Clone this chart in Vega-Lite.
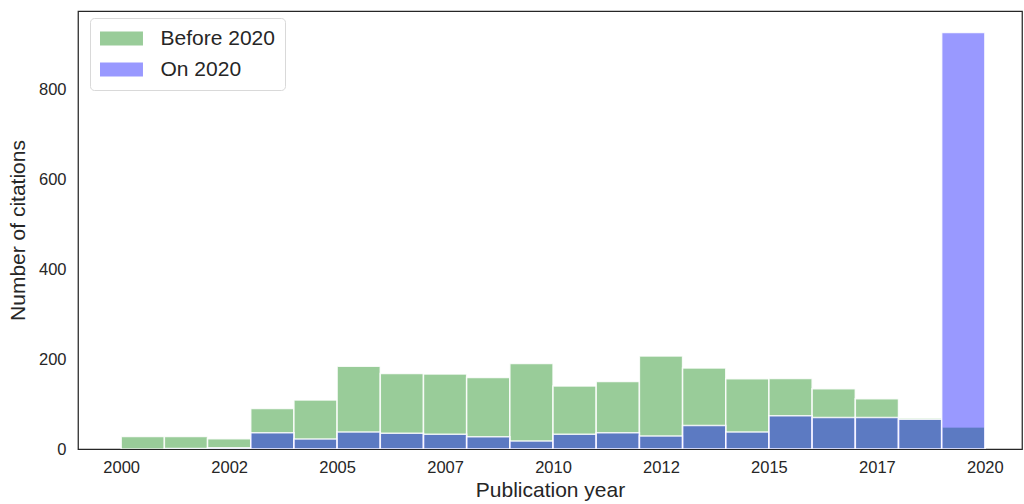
{
  "$schema": "https://vega.github.io/schema/vega-lite/v6.json",
  "width": 944,
  "height": 438,
  "autosize": {"type": "none"},
  "padding": {"left": 78, "top": 11, "right": 2, "bottom": 55},
  "background": "white",
  "config": {
    "font": "Liberation Sans",
    "view": {"stroke": "#262626", "strokeWidth": 1.25},
    "axis": {"grid": false, "ticks": false, "domain": false, "labelColor": "#262626", "titleColor": "#262626", "labelFont": "Liberation Sans", "titleFont": "Liberation Sans", "titleFontWeight": "normal"}
  },
  "data": {
    "values": [
      {"year": 2000, "year_end": 2001, "citations": 28, "period": "Before 2020"},
      {"year": 2001, "year_end": 2002, "citations": 28, "period": "Before 2020"},
      {"year": 2002, "year_end": 2003, "citations": 23, "period": "Before 2020"},
      {"year": 2003, "year_end": 2004, "citations": 90, "period": "Before 2020"},
      {"year": 2004, "year_end": 2005, "citations": 109, "period": "Before 2020"},
      {"year": 2005, "year_end": 2006, "citations": 184, "period": "Before 2020"},
      {"year": 2006, "year_end": 2007, "citations": 168, "period": "Before 2020"},
      {"year": 2007, "year_end": 2008, "citations": 167, "period": "Before 2020"},
      {"year": 2008, "year_end": 2009, "citations": 159, "period": "Before 2020"},
      {"year": 2009, "year_end": 2010, "citations": 190, "period": "Before 2020"},
      {"year": 2010, "year_end": 2011, "citations": 140, "period": "Before 2020"},
      {"year": 2011, "year_end": 2012, "citations": 150, "period": "Before 2020"},
      {"year": 2012, "year_end": 2013, "citations": 207, "period": "Before 2020"},
      {"year": 2013, "year_end": 2014, "citations": 180, "period": "Before 2020"},
      {"year": 2014, "year_end": 2015, "citations": 156, "period": "Before 2020"},
      {"year": 2015, "year_end": 2016, "citations": 157, "period": "Before 2020"},
      {"year": 2016, "year_end": 2017, "citations": 134, "period": "Before 2020"},
      {"year": 2017, "year_end": 2018, "citations": 112, "period": "Before 2020"},
      {"year": 2018, "year_end": 2019, "citations": 69, "period": "Before 2020"},
      {"year": 2019, "year_end": 2020, "citations": 49, "period": "Before 2020"},
      {"year": 2001, "year_end": 2002, "citations": 1, "period": "On 2020"},
      {"year": 2002, "year_end": 2003, "citations": 3, "period": "On 2020"},
      {"year": 2003, "year_end": 2004, "citations": 36, "period": "On 2020"},
      {"year": 2004, "year_end": 2005, "citations": 22, "period": "On 2020"},
      {"year": 2005, "year_end": 2006, "citations": 38, "period": "On 2020"},
      {"year": 2006, "year_end": 2007, "citations": 35, "period": "On 2020"},
      {"year": 2007, "year_end": 2008, "citations": 33, "period": "On 2020"},
      {"year": 2008, "year_end": 2009, "citations": 27, "period": "On 2020"},
      {"year": 2009, "year_end": 2010, "citations": 18, "period": "On 2020"},
      {"year": 2010, "year_end": 2011, "citations": 33, "period": "On 2020"},
      {"year": 2011, "year_end": 2012, "citations": 36, "period": "On 2020"},
      {"year": 2012, "year_end": 2013, "citations": 29, "period": "On 2020"},
      {"year": 2013, "year_end": 2014, "citations": 52, "period": "On 2020"},
      {"year": 2014, "year_end": 2015, "citations": 38, "period": "On 2020"},
      {"year": 2015, "year_end": 2016, "citations": 74, "period": "On 2020"},
      {"year": 2016, "year_end": 2017, "citations": 70, "period": "On 2020"},
      {"year": 2017, "year_end": 2018, "citations": 70, "period": "On 2020"},
      {"year": 2018, "year_end": 2019, "citations": 66, "period": "On 2020"},
      {"year": 2019, "year_end": 2020, "citations": 926, "period": "On 2020"}
    ]
  },
  "mark": {"type": "bar", "fillOpacity": 0.4, "stroke": "white", "strokeOpacity": 0.85, "strokeWidth": 1.5, "clip": true},
  "encoding": {
    "x": {
      "field": "year",
      "type": "quantitative",
      "scale": {"domain": [1999, 2020.86], "nice": false, "zero": false},
      "axis": {
        "title": "Publication year",
        "values": [2000, 2002.5, 2005, 2007.5, 2010, 2012.5, 2015, 2017.5, 2020],
        "labelExpr": "'' + floor(datum.value)",
        "labelFontSize": 16.5,
        "labelPadding": 10,
        "titleFontSize": 21,
        "titlePadding": 4
      }
    },
    "x2": {"field": "year_end"},
    "y": {
      "field": "citations",
      "type": "quantitative",
      "stack": null,
      "scale": {"domain": [0, 974], "nice": false},
      "axis": {
        "title": "Number of citations",
        "values": [0, 200, 400, 600, 800],
        "labelFontSize": 16.5,
        "labelPadding": 12,
        "titleFontSize": 21,
        "titlePadding": 10
      }
    },
    "y2": {"datum": 0},
    "color": {
      "field": "period",
      "type": "nominal",
      "scale": {"domain": ["Before 2020", "On 2020"], "range": ["#008000", "#0000ff"]},
      "legend": {
        "title": null,
        "orient": "none",
        "legendX": 12,
        "legendY": 7,
        "symbolType": "M-1.5,-1H4.64V1H-1.5Z",
        "symbolSize": 196,
        "symbolOpacity": 0.4,
        "symbolStrokeWidth": 0,
        "labelFontSize": 21,
        "labelColor": "#262626",
        "labelOffset": 39.5,
        "rowPadding": 9,
        "padding": 10,
        "fillColor": "white",
        "strokeColor": "#d9d9d9",
        "cornerRadius": 4
      }
    },
    "order": {"field": "period", "sort": "ascending"}
  }
}
